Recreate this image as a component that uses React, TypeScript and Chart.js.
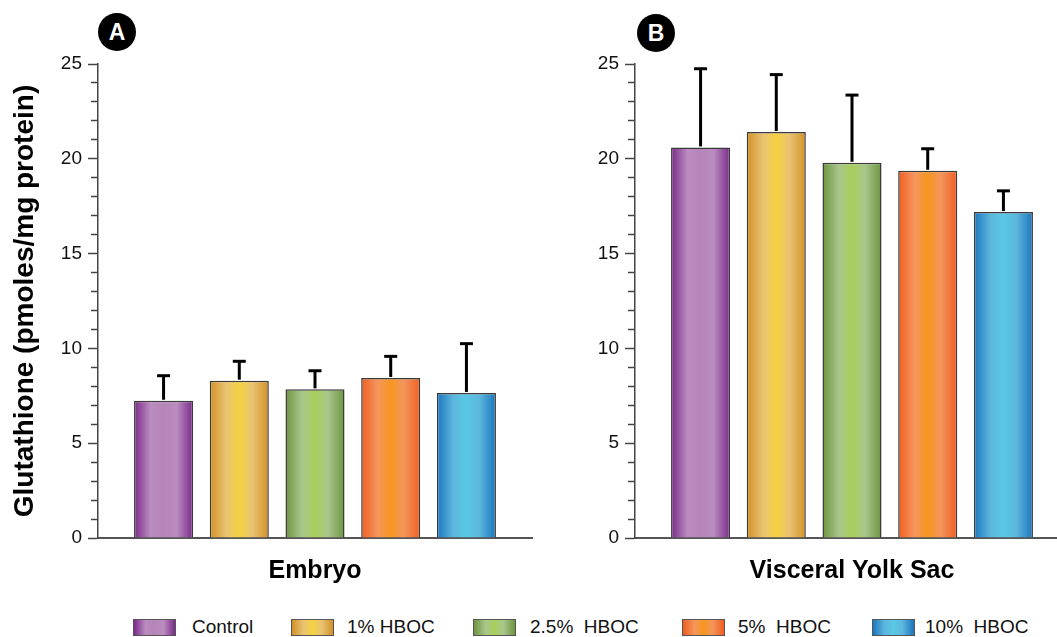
import React, { useEffect, useRef } from "react";
import { Chart, registerables } from "chart.js";
Chart.register(...registerables);

const FONT = "'Liberation Sans', Arial, Helvetica, sans-serif";

const groups = ["Control", "1% HBOC", "2.5%  HBOC", "5%  HBOC", "10%  HBOC"];
const embryoMeans = [7.24, 8.3, 7.84, 8.44, 7.65];
const embryoErrors = [1.32, 1.02, 0.98, 1.14, 2.6];
const yolkMeans = [20.6, 21.41, 19.79, 19.37, 17.19];
const yolkErrors = [4.15, 3.03, 3.57, 1.16, 1.12];
const yMin = 0;
const yMax = 25;
const yMajorStep = 5;
const yMinorStep = 1;

const palette = [
  { dark: "#7a2a8a", light: "#bb8cc0", mid: "#b585ba" },
  { dark: "#d39128", light: "#e9c373", mid: "#f5d240" },
  { dark: "#6c963e", light: "#a9c68d", mid: "#a8cf5a" },
  { dark: "#f05e22", light: "#f4965e", mid: "#f7961e" },
  { dark: "#1b76bf", light: "#5db6dd", mid: "#58c9e6" },
];

const BAR_PCT = 0.78;
const X_MIN = -0.866;
const X_MAX = 4.866;

function barFill(ctx: any) {
  const chart = ctx.chart;
  const p = palette[ctx.dataIndex % palette.length];
  const xs = chart.scales && chart.scales.x;
  if (!xs || ctx.type !== "data") return p.light;
  const unit = Math.abs(xs.getPixelForValue(1) - xs.getPixelForValue(0));
  const w = unit * BAR_PCT;
  const cx = xs.getPixelForValue(ctx.dataIndex);
  if (!isFinite(cx) || !isFinite(w) || w <= 0) return p.light;
  const g = chart.ctx.createLinearGradient(cx - w / 2, 0, cx + w / 2, 0);
  g.addColorStop(0, p.dark);
  g.addColorStop(0.28, p.light);
  g.addColorStop(0.5, p.mid);
  g.addColorStop(0.72, p.light);
  g.addColorStop(1, p.dark);
  return g;
}

function errorBarPlugin(means: number[], errors: number[]) {
  return {
    id: "errorBars",
    afterDatasetsDraw(chart: any) {
      const meta = chart.getDatasetMeta(0);
      const ys = chart.scales.y;
      const c = chart.ctx;
      c.save();
      c.strokeStyle = "#000";
      c.lineWidth = 3;
      c.lineCap = "butt";
      meta.data.forEach((el: any, i: number) => {
        const x = el.x;
        const y0 = ys.getPixelForValue(means[i]);
        const y1 = ys.getPixelForValue(means[i] + errors[i]);
        c.beginPath();
        c.moveTo(x, y0 - 1);
        c.lineTo(x, y1);
        c.stroke();
        c.beginPath();
        c.moveTo(x - 6.5, y1);
        c.lineTo(x + 6.5, y1);
        c.stroke();
      });
      c.restore();
    },
  };
}

function makeConfig(
  means: number[],
  errors: number[],
  xTitle: string,
  yWidth: number,
  showYTitle: boolean,
  padRight: number
): any {
  return {
    type: "bar",
    data: {
      datasets: [
        {
          label: "Glutathione",
          data: means.map((v, i) => ({ x: i, y: v })),
          backgroundColor: barFill,
          borderColor: "#3a3a3a",
          borderWidth: 1.5,
          borderSkipped: "start",
          barPercentage: BAR_PCT,
          categoryPercentage: 1,
        },
      ],
    },
    options: {
      responsive: false,
      animation: false,
      layout: { padding: { top: 64, left: 0, right: padRight, bottom: 2 } },
      plugins: { legend: { display: false }, tooltip: { enabled: false } },
      scales: {
        x: {
          type: "linear",
          min: X_MIN,
          max: X_MAX,
          offset: false,
          afterBuildTicks: (s: any) => {
            s.ticks = means.map((_, i) => ({ value: i }));
          },
          ticks: { display: false },
          grid: { display: false, offset: false },
          border: { display: true, color: "#555", width: 2 },
          title: {
            display: true,
            text: xTitle,
            color: "#000",
            font: { family: FONT, size: 25, weight: "bold" },
            padding: { top: 0, bottom: 12 },
          },
          afterFit: (s: any) => {
            s.height = 60;
          },
        },
        y: {
          min: yMin,
          max: yMax,
          ticks: {
            stepSize: yMinorStep,
            autoSkip: false,
            padding: 6,
            color: "#111",
            font: { family: FONT, size: 19 },
            callback: (v: any) => (Number(v) % yMajorStep === 0 ? String(v) : ""),
          },
          grid: {
            drawOnChartArea: false,
            tickLength: 10,
            tickColor: "#444",
            tickWidth: 1.5,
            tickBorderDash: (ctx: any) =>
              ctx.tick && Number(ctx.tick.value) % yMajorStep === 0 ? [] : [0, 3, 7, 100],
          },
          border: { color: "#444", width: 1.5 },
          title: {
            display: showYTitle,
            text: "Glutathione (pmoles/mg protein)",
            color: "#000",
            font: { family: FONT, size: 28, weight: "bold" },
            padding: { top: 8, bottom: 0 },
          },
          afterFit: (s: any) => {
            s.width = yWidth;
          },
        },
      },
    },
    plugins: [errorBarPlugin(means, errors)],
  };
}

function Panel(props: {
  left: number;
  width: number;
  means: number[];
  errors: number[];
  xTitle: string;
  yWidth: number;
  showYTitle: boolean;
  padRight: number;
}) {
  const ref = useRef<HTMLCanvasElement | null>(null);
  useEffect(() => {
    if (!ref.current) return;
    const chart = new Chart(
      ref.current,
      makeConfig(props.means, props.errors, props.xTitle, props.yWidth, props.showYTitle, props.padRight)
    );
    return () => chart.destroy();
  }, []);
  return (
    <canvas
      ref={ref}
      width={props.width}
      height={600}
      style={{ position: "absolute", left: props.left, top: 0, width: props.width, height: 600 }}
    />
  );
}

const legendSwatchX = [133, 291, 473, 682, 872];
const legendTextX = [192, 347, 530, 738, 925];

function Badge(props: { x: number; y: number; letter: string }) {
  return (
    <div
      style={{
        position: "absolute",
        left: props.x - 19,
        top: props.y - 19,
        width: 38,
        height: 38,
        borderRadius: "50%",
        background: "#000",
        color: "#fff",
        fontFamily: FONT,
        fontWeight: "bold",
        fontSize: 23,
        display: "flex",
        alignItems: "center",
        justifyContent: "center",
        lineHeight: 1,
      }}
    >
      {props.letter}
    </div>
  );
}

export default function App() {
  return (
    <div
      style={{
        position: "fixed",
        left: 0,
        top: 0,
        width: 1057,
        height: 637,
        overflow: "hidden",
        background: "#fff",
      }}
    >
      <Panel left={0} width={540} means={embryoMeans} errors={embryoErrors} xTitle="Embryo" yWidth={98} showYTitle={true} padRight={8} />
      <Panel left={540} width={529} means={yolkMeans} errors={yolkErrors} xTitle="Visceral Yolk Sac" yWidth={95} showYTitle={false} padRight={0} />
      <Badge x={117} y={32} letter="A" />
      <Badge x={656} y={33} letter="B" />
      {groups.map((g, i) => {
        const p = palette[i];
        return (
          <React.Fragment key={g}>
            <div
              style={{
                position: "absolute",
                left: legendSwatchX[i],
                top: 619,
                width: 43,
                height: 17,
                boxSizing: "border-box",
                border: "1px solid #555",
                background: `linear-gradient(to right, ${p.dark} 0%, ${p.light} 28%, ${p.mid} 50%, ${p.light} 72%, ${p.dark} 100%)`,
              }}
            />
            <div
              style={{
                position: "absolute",
                left: legendTextX[i],
                top: 616,
                fontFamily: FONT,
                fontSize: 19,
                lineHeight: "22px",
                color: "#111",
                whiteSpace: "pre",
              }}
            >
              {g}
            </div>
          </React.Fragment>
        );
      })}
    </div>
  );
}
